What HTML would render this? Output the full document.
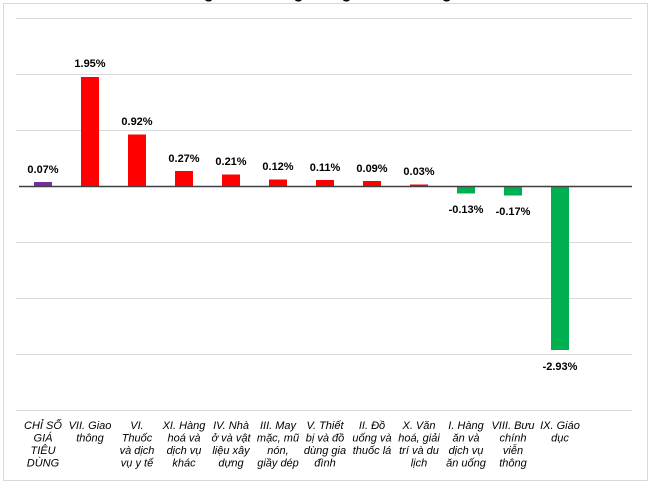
<!DOCTYPE html>
<html><head><meta charset="utf-8"><style>
body{margin:0;background:#fff;}
svg{display:block;font-family:"Liberation Sans",Arial,sans-serif;}
</style></head><body>
<svg width="650" height="484" viewBox="0 0 650 484">
<rect x="3.5" y="3.5" width="644" height="477" fill="#fff" stroke="#d9d9d9"/>
<text x="325" y="-2" text-anchor="middle" font-size="16" font-weight="bold">Chỉ số giá tiêu dùng tháng so với tháng trước</text>
<g stroke="#d9d9d9" stroke-width="1">
<line x1="16" x2="632" y1="18.5" y2="18.5"/>
<line x1="16" x2="632" y1="74.5" y2="74.5"/>
<line x1="16" x2="632" y1="130.5" y2="130.5"/>
<line x1="16" x2="632" y1="242.5" y2="242.5"/>
<line x1="16" x2="632" y1="298.5" y2="298.5"/>
<line x1="16" x2="632" y1="354.5" y2="354.5"/>
<line x1="16" x2="632" y1="410.5" y2="410.5"/>
</g>
<g>
<rect x="34" y="182" width="18" height="4" fill="#7030a0"/>
<rect x="81" y="77" width="18" height="109" fill="#ff0000"/>
<rect x="128" y="134.5" width="18" height="51.5" fill="#ff0000"/>
<rect x="175" y="171" width="18" height="15" fill="#ff0000"/>
<rect x="222" y="174.5" width="18" height="11.5" fill="#ff0000"/>
<rect x="269" y="179.5" width="18" height="6.5" fill="#ff0000"/>
<rect x="316" y="180" width="18" height="6" fill="#ff0000"/>
<rect x="363" y="181" width="18" height="5" fill="#ff0000"/>
<rect x="410" y="184.5" width="18" height="1.5" fill="#ff0000"/>
<rect x="457" y="186" width="18" height="7.5" fill="#00b050"/>
<rect x="504" y="186" width="18" height="9.5" fill="#00b050"/>
<rect x="551" y="186" width="18" height="164" fill="#00b050"/>
</g>
<line x1="19" x2="632" y1="186.5" y2="186.5" stroke="#404040" stroke-width="1.5"/>
<g font-size="11" font-weight="bold" text-anchor="middle" fill="#000">
<text x="43" y="173">0.07%</text>
<text x="90" y="67">1.95%</text>
<text x="137" y="125">0.92%</text>
<text x="184" y="162">0.27%</text>
<text x="231" y="165">0.21%</text>
<text x="278" y="170">0.12%</text>
<text x="325" y="171">0.11%</text>
<text x="372" y="172">0.09%</text>
<text x="419" y="175">0.03%</text>
<text x="466" y="213">-0.13%</text>
<text x="513" y="215">-0.17%</text>
<text x="560" y="370">-2.93%</text>
</g>
<g font-size="11" font-style="italic" text-anchor="middle" fill="#000">
<text x="43" y="429">CHỈ SỐ<tspan x="43" dy="12.5">GIÁ</tspan><tspan x="43" dy="12.5">TIÊU</tspan><tspan x="43" dy="12.5">DÙNG</tspan></text>
<text x="90" y="429">VII. Giao<tspan x="90" dy="12.5">thông</tspan></text>
<text x="137" y="429">VI.<tspan x="137" dy="12.5">Thuốc</tspan><tspan x="137" dy="12.5">và dịch</tspan><tspan x="137" dy="12.5">vụ y tế</tspan></text>
<text x="184" y="429">XI. Hàng<tspan x="184" dy="12.5">hoá và</tspan><tspan x="184" dy="12.5">dịch vụ</tspan><tspan x="184" dy="12.5">khác</tspan></text>
<text x="231" y="429">IV. Nhà<tspan x="231" dy="12.5">ở và vật</tspan><tspan x="231" dy="12.5">liệu xây</tspan><tspan x="231" dy="12.5">dựng</tspan></text>
<text x="278" y="429">III. May<tspan x="278" dy="12.5">mặc, mũ</tspan><tspan x="278" dy="12.5">nón,</tspan><tspan x="278" dy="12.5">giầy dép</tspan></text>
<text x="325" y="429">V. Thiết<tspan x="325" dy="12.5">bị và đồ</tspan><tspan x="325" dy="12.5">dùng gia</tspan><tspan x="325" dy="12.5">đình</tspan></text>
<text x="372" y="429">II. Đồ<tspan x="372" dy="12.5">uống và</tspan><tspan x="372" dy="12.5">thuốc lá</tspan></text>
<text x="419" y="429">X. Văn<tspan x="419" dy="12.5">hoá, giải</tspan><tspan x="419" dy="12.5">trí và du</tspan><tspan x="419" dy="12.5">lịch</tspan></text>
<text x="466" y="429">I. Hàng<tspan x="466" dy="12.5">ăn và</tspan><tspan x="466" dy="12.5">dịch vụ</tspan><tspan x="466" dy="12.5">ăn uống</tspan></text>
<text x="513" y="429">VIII. Bưu<tspan x="513" dy="12.5">chính</tspan><tspan x="513" dy="12.5">viễn</tspan><tspan x="513" dy="12.5">thông</tspan></text>
<text x="560" y="429">IX. Giáo<tspan x="560" dy="12.5">dục</tspan></text>
</g>
</svg>
</body></html>
